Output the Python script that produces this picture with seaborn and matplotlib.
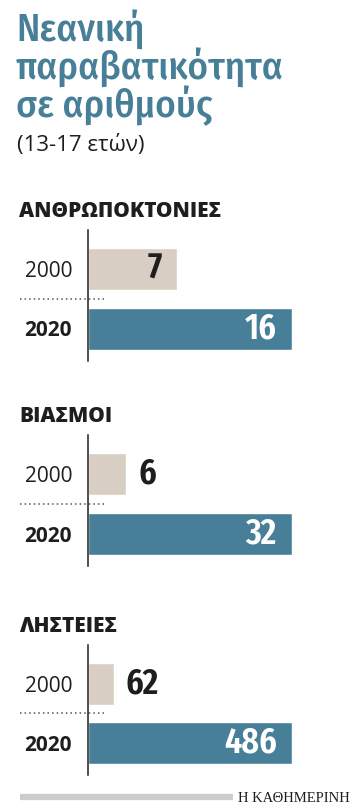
import matplotlib
matplotlib.use("Agg")
import matplotlib.pyplot as plt
import matplotlib.transforms as mtransforms
import seaborn as sns
import pandas as pd

# ---- data ----
categories = ["ΑΝΘΡΩΠΟΚΤΟΝΙΕΣ", "ΒΙΑΣΜΟΙ", "ΛΗΣΤΕΙΕΣ"]
years = ["2000", "2020"]
values_2000 = [7, 6, 62]
values_2020 = [16, 32, 486]
title_lines = ["Νεανική", "παραβατικότητα", "σε αριθμούς"]
subtitle = "(13-17 ετών)"
source = "Η ΚΑΘΗΜΕΡΙΝΗ"

# ---- style ----
sns.set_theme(style="white")
plt.rcParams["font.family"] = ["Open Sans", "DejaVu Sans"]

TEAL = "#487f98"
BEIGE = "#d9cec4"
DARK = "#1e1e1e"
NUM_FONT = ["Fira Sans Extra Condensed", "Barlow Condensed", "Roboto Condensed", "DejaVu Sans"]
TITLE_FONT = ["Fira Sans Condensed", "Open Sans", "DejaVu Sans"]

W, H = 350, 810
fig = plt.figure(figsize=(W / 100, H / 100), dpi=100)
fig.patch.set_facecolor("white")

def fx(px):
    return px / W

def fy(py):
    return 1 - py / H

# title
for line, base in zip(title_lines, [42, 80, 117]):
    fig.text(fx(16), fy(base), line, color=TEAL, fontsize=28, va="baseline", ha="left",
             family=TITLE_FONT, fontweight="medium")
fig.text(fx(17), fy(151), subtitle, color=DARK, fontsize=16, va="baseline", ha="left")

centers_first = [269, 474, 683.5]
spacing = 59.5
ax_left, ax_right = 88, 300

for i, cat in enumerate(categories):
    c1 = centers_first[i]
    c2 = c1 + spacing
    top, bottom = c1 - 39, c2 + 32
    ax = fig.add_axes([fx(ax_left), fy(bottom), (ax_right - ax_left) / W, (bottom - top) / H])
    df = pd.DataFrame({"year": years, "value": [values_2000[i], values_2020[i]]})
    sns.barplot(data=df, x="value", y="year", hue="year", palette=[BEIGE, TEAL],
                orient="h", width=42 / spacing, legend=False, ax=ax, saturation=1)
    vmax = max(values_2000[i], values_2020[i])
    ax.set_xlim(0, vmax * 1.04)
    ax.set_ylim(1 + 32 / spacing, -39 / spacing)
    ax.set_xlabel("")
    ax.set_ylabel("")
    ax.set_xticks([])
    ax.set_yticks([0, 1])
    ax.set_yticklabels(years)
    ax.tick_params(axis="y", length=0, pad=11.5, labelsize=15, labelcolor=DARK)
    for lbl, w in zip(ax.get_yticklabels(), ["normal", "bold"]):
        lbl.set_fontweight(w)
    for s in ["top", "right", "bottom"]:
        ax.spines[s].set_visible(False)
    ax.spines["left"].set_color(DARK)
    ax.spines["left"].set_linewidth(1.1)
    ax.patch.set_alpha(0)

    # values
    for j, v in enumerate([values_2000[i], values_2020[i]]):
        if v / vmax < 0.3:
            ax.annotate(str(v), xy=(v, j), xytext=(8.5, 0), textcoords="offset points",
                        ha="left", va="center", fontsize=26.5, fontweight="semibold",
                        color=DARK, family=NUM_FONT)
        else:
            col = DARK if j == 0 else "white"
            ax.annotate(str(v), xy=(v, j), xytext=(-11, 0), textcoords="offset points",
                        ha="right", va="center", fontsize=26.5, fontweight="semibold",
                        color=col, family=NUM_FONT)

    # dotted separator
    tr = mtransforms.blended_transform_factory(fig.transFigure, ax.transData)
    ax.plot([fx(20), fx(107)], [0.5, 0.5], transform=tr, clip_on=False,
            color="#555555", linestyle=(0, (1, 2)), linewidth=1.1)

    # header
    fig.text(fx(19), fy(c1 - 52), cat, fontsize=15, fontweight="heavy", color=DARK,
             va="baseline", ha="left")

# footer
fig.add_artist(plt.Line2D([fx(20), fx(233)], [fy(797), fy(797)], color="#cccccc",
                          linewidth=4.5, solid_capstyle="butt"))
fig.text(fx(238), fy(802), source, fontsize=10.5, color=DARK, va="baseline", ha="left",
         family=["Liberation Serif", "DejaVu Serif"])

fig.savefig("out.png", dpi=100, facecolor="white")
